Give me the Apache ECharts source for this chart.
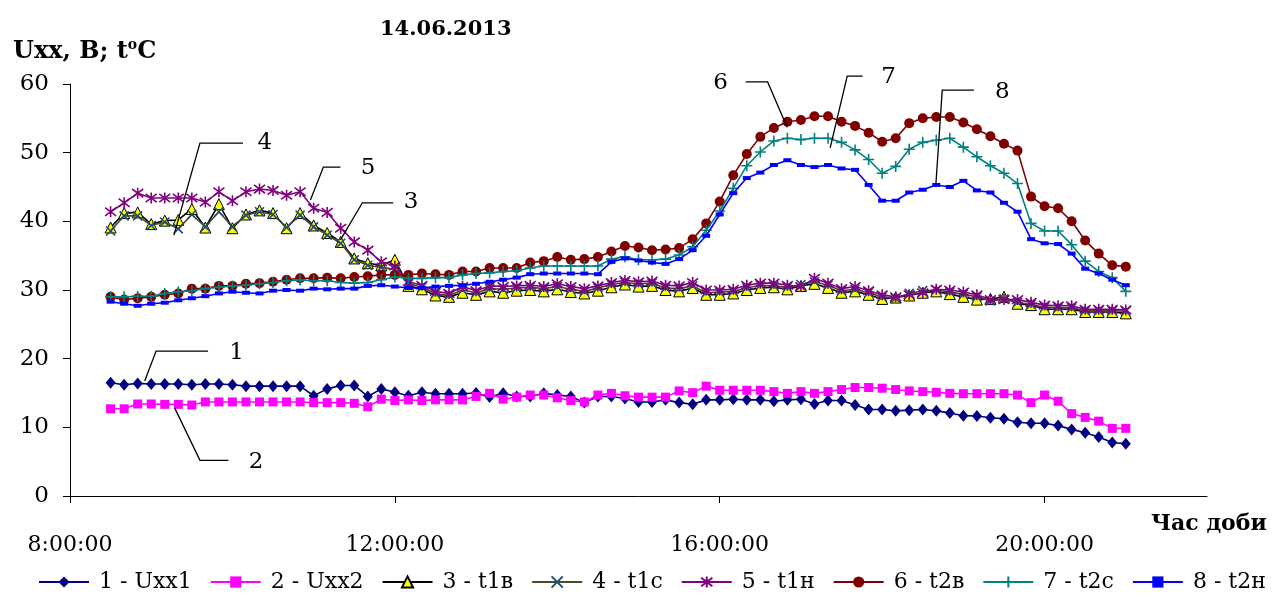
<!DOCTYPE html>
<html><head><meta charset="utf-8">
<script src="https://cdn.jsdelivr.net/npm/echarts@6/dist/echarts.min.js"></script>
<style>html,body{margin:0;padding:0;background:#fff}#c{width:1276px;height:606px}</style>
</head><body><div id="c"></div>
<script>
const times = ["8:30","8:40","8:50",
"9:00","9:10","9:20","9:30","9:40","9:50",
"10:00","10:10","10:20","10:30","10:40","10:50",
"11:00","11:10","11:20","11:30","11:40","11:50",
"12:00","12:10","12:20","12:30","12:40","12:50",
"13:00","13:10","13:20","13:30","13:40","13:50",
"14:00","14:10","14:20","14:30","14:40","14:50",
"15:00","15:10","15:20","15:30","15:40","15:50",
"16:00","16:10","16:20","16:30","16:40","16:50",
"17:00","17:10","17:20","17:30","17:40","17:50",
"18:00","18:10","18:20","18:30","18:40","18:50",
"19:00","19:10","19:20","19:30","19:40","19:50",
"20:00","20:10","20:20","20:30","20:40","20:50",
"21:00"];

const uxx1 = [16.5,16.2,16.4,16.3,16.3,16.3,16.2,16.3,16.3,16.2,16.0,16.0,16.0,16.0,16.0,
14.6,15.6,16.1,16.1,14.5,15.6,15.1,14.6,15.1,14.9,14.9,14.9,15.0,14.4,
14.95,14.5,14.5,14.95,14.7,14.5,13.6,14.5,14.5,14.2,13.7,13.7,14.0,13.6,13.35,14.0,14.0,14.1,14.0,
14.0,13.8,14.0,14.1,13.4,13.9,13.9,13.25,12.6,12.6,12.4,12.5,12.6,12.4,12.1,
11.7,11.65,11.4,11.25,10.75,10.6,10.6,10.25,9.7,9.2,8.6,7.8,7.6];

const uxx2 = [12.7,12.7,13.4,13.4,13.35,13.35,13.25,13.7,13.7,13.7,13.7,13.7,13.7,13.7,13.7,
13.6,13.6,13.6,13.5,13.0,14.1,13.9,14.0,13.9,14.0,14.0,14.0,14.5,14.95,
14.1,14.4,14.7,14.7,14.3,13.9,13.7,14.7,14.95,14.6,14.4,14.4,14.4,15.3,15.05,16.0,15.4,15.4,15.4,
15.4,15.2,14.95,15.2,14.95,15.2,15.5,15.8,15.8,15.7,15.5,15.3,15.2,15.1,14.95,
14.9,14.9,14.9,14.9,14.7,13.6,14.7,13.8,12.0,11.45,10.9,9.85,9.85];

const t1v = [39.1,41.2,41.3,39.6,40.1,40.2,41.8,39.1,42.5,39.0,41.0,41.6,41.2,39.0,41.2,39.4,38.3,37.0,34.6,33.9,33.6,34.4,
30.6,30.1,29.2,29.0,29.6,29.3,29.8,29.6,29.9,30.0,29.8,30.1,29.7,29.5,29.9,30.4,30.8,30.5,30.6,30.0,29.8,30.3,29.3,29.3,29.5,30.0,30.3,30.4,30.1,30.6,30.9,30.3,29.6,29.8,29.3,28.7,28.9,29.2,29.6,29.8,29.4,29.0,28.6,28.7,29.0,28.0,27.8,27.2,27.2,27.2,26.8,26.8,26.8,26.6];

const t1c = [38.6,40.8,40.8,39.4,39.9,38.9,41.0,39.2,41.4,39.2,40.9,41.4,41.0,39.1,40.9,39.2,38.0,36.8,34.4,33.6,33.3,33.0,
30.9,30.4,29.5,29.2,30.0,29.6,30.2,30.1,30.3,30.4,30.2,30.5,30.1,29.8,30.3,30.8,31.1,30.9,31.0,30.3,30.2,30.6,29.6,29.7,29.8,30.3,30.7,30.6,30.4,30.8,31.2,30.7,29.9,30.1,29.6,29.0,28.8,29.5,29.9,30.0,29.7,29.4,29.0,28.4,28.7,28.2,27.9,27.5,27.4,27.4,27.0,27.0,27.0,26.9];

const t1n = [41.4,42.7,44.1,43.4,43.4,43.4,43.4,42.8,44.3,43.0,44.3,44.7,44.5,43.8,44.3,41.9,41.3,39.0,37.0,35.8,34.1,33.5,
31.2,30.7,29.8,29.5,30.5,29.9,30.6,30.5,30.6,30.7,30.5,30.9,30.5,30.2,30.6,31.1,31.4,31.2,31.3,30.7,30.6,31.1,30.0,30.0,30.1,30.7,31.0,31.0,30.7,30.5,31.7,31.0,30.2,30.5,29.9,29.3,29.0,29.3,29.6,30.1,30.0,29.7,29.3,28.6,28.6,28.6,28.2,27.8,27.7,27.7,27.2,27.2,27.2,27.1];

const t2v = [29.0,28.6,28.8,29.0,29.3,29.5,30.2,30.2,30.6,30.6,30.9,31.0,31.2,31.5,31.7,31.7,31.8,31.7,31.9,32.0,
32.2,32.2,32.2,32.4,32.3,32.2,32.7,32.7,33.2,33.2,33.2,34.0,34.2,34.8,34.4,34.5,34.8,35.6,36.4,36.2,35.8,35.9,36.1,37.4,39.7,42.9,
46.7,49.8,52.3,53.6,54.5,54.75,55.3,55.3,54.5,53.9,52.9,51.6,52.1,54.3,55.0,55.2,55.2,54.4,53.4,52.4,51.3,50.3,
43.6,42.2,41.9,40.0,37.2,35.3,33.6,33.4];

const t2c = [29.0,29.0,29.1,29.1,29.5,29.75,29.9,30.2,30.4,30.6,30.7,30.9,31.1,31.35,31.45,31.35,31.35,31.1,31.0,31.1,
31.5,31.9,31.7,31.7,31.8,31.8,32.2,32.4,32.5,32.7,32.8,33.2,33.5,33.5,33.5,33.5,33.5,34.5,34.85,34.4,34.4,34.5,35.1,36.3,38.7,41.5,
44.8,48.1,50.1,51.7,52.1,51.9,52.1,52.1,51.5,50.4,49.0,47.0,48.0,50.5,51.5,51.8,52.1,50.8,49.4,48.1,47.0,45.5,
39.7,38.6,38.6,36.6,34.2,32.7,31.8,29.8];

const t2n = [28.3,28.0,27.7,28.0,28.15,28.5,28.8,29.1,29.5,29.75,29.6,29.5,29.9,30.0,29.9,30.2,30.1,30.2,30.2,30.6,
30.7,30.5,30.3,30.3,30.5,30.6,30.7,30.9,31.2,31.5,31.8,32.3,32.4,32.4,32.4,32.4,32.3,34.1,34.6,34.3,34.0,33.8,34.5,35.8,37.9,41.0,
44.1,46.3,47.1,48.2,48.9,48.2,47.9,48.2,47.7,47.5,45.3,43.0,43.0,44.2,44.6,45.3,45.0,45.9,44.5,44.2,42.7,41.4,
37.4,36.8,36.7,35.3,33.1,32.4,31.5,30.7];

const seriesNames = ["1 - Uxx1","2 - Uxx2","3 - t1в","4 - t1с","5 - t1н","6 - t2в","7 - t2с","8 - t2н"];
const xTickValues = [8,12,16,20];
const xTickLabels = ["8:00:00","12:00:00","16:00:00","20:00:00"];
const titleText = "14.06.2013";
const xTitle = "Час доби";

// callouts: leader lines in data coordinates [hours, value], label position and text
const callouts = [
  {label:"1", at:[10.05,20.8], pts:[[8.92,16.75],[9.06,21.1],[9.70,21.1]]},
  {label:"2", at:[10.29,4.9], pts:[[9.29,12.8],[9.60,5.2],[9.95,5.2]]},
  {label:"4", at:[10.40,51.4], pts:[[9.28,38.0],[9.60,51.4],[10.13,51.4]]},
  {label:"5", at:[11.67,47.8], pts:[[10.96,43.1],[11.12,47.9],[11.33,47.9]]},
  {label:"3", at:[12.20,42.8], pts:[[11.33,37.3],[11.60,42.7],[11.98,42.7]]},
  {label:"6", at:[16.01,60.1], pts:[[16.32,60.3],[16.59,60.3],[16.83,53.7]]},
  {label:"7", at:[18.08,61.0], pts:[[17.76,61.15],[17.57,61.15],[17.36,50.7]]},
  {label:"8", at:[19.48,58.8], pts:[[19.13,59.1],[18.74,59.1],[18.66,45.1]]}
];

const X = times.map(t => { const p = t.split(':').map(Number); return p[0] + p[1]/60; });
const pair = arr => arr.map((v,i) => [X[i], v]);

const FONT = "DejaVu Serif";
const chart = echarts.init(document.getElementById('c'), null, {renderer:'canvas'});

function line(name, data, lineColor, symbol, size, itemStyle, z) {
  return {
    name, type:'line', data: pair(data), symbol, symbolSize: size,
    showAllSymbol: true,
    lineStyle:{color: lineColor, width: 1.6},
    itemStyle, z: z, animation:false,
    emphasis:{disabled:true}
  };
}
const P_X = 'path://M0,0L10,10M10,0L0,10';
const P_AST = 'path://M5,0L5,10M0.6,1.2L9.4,8.8M9.4,1.2L0.6,8.8';
const P_PLUS = 'path://M5,0L5,10M0,5L10,5';

const option = {
  backgroundColor:'#fff',
  animation:false,
  title:[
    {text:titleText, left:375, top:14, textStyle:{fontFamily:FONT, fontWeight:'bold', fontSize:21, color:'#000'}},
    {text:'Uxx, B; t{sup|o}C', left:8, top:33, textStyle:{fontFamily:FONT, fontWeight:'bold', fontSize:24, color:'#000',
      rich:{sup:{fontFamily:FONT, fontWeight:'bold', fontSize:14, color:'#000', padding:[0,0,13,0]}}}},
    {text:xTitle, left:1146, top:508, textStyle:{fontFamily:FONT, fontWeight:'bold', fontSize:22, color:'#000'}}
  ],
  grid:{left:70, right:69, top:84, bottom:110},
  legend:{
    data: seriesNames, left:38, top:571, width:1238, padding:0, itemWidth:50, itemHeight:14, itemGap:18,
    textStyle:{fontFamily:FONT, fontSize:22, color:'#000', padding:[0,0,0,5]},
    selectedMode:false
  },
  xAxis:{
    type:'value', min:8, max:22,
    axisLine:{lineStyle:{color:'#000', width:1}},
    axisTick:{show:true, length:7, lineStyle:{color:'#000'}, customValues: xTickValues},
    axisLabel:{customValues: xTickValues, margin:38, fontFamily:FONT, fontSize:22, color:'#000',
      formatter: v => { const k = xTickValues.indexOf(v); return k >= 0 ? xTickLabels[k] : ''; }},
    splitLine:{show:false}
  },
  yAxis:{
    type:'value', min:0, max:60, interval:10,
    axisLine:{show:true, lineStyle:{color:'#000', width:1}},
    axisTick:{show:true, length:7, lineStyle:{color:'#000'}},
    axisLabel:{margin:21, fontFamily:FONT, fontSize:23, color:'#000'},
    splitLine:{show:false}
  },
  series:[
    line(seriesNames[0], uxx1, '#000080', 'diamond', [10,12], {color:'#000080'}, 2),
    line(seriesNames[1], uxx2, '#FF00FF', 'rect', 9, {color:'#FF00FF'}, 3),
    line(seriesNames[2], t1v, '#000000', 'triangle', 11, {color:'#FFFF00', borderColor:'#000', borderWidth:1}, 4),
    line(seriesNames[3], t1c, '#4A4A22', P_X, 9, {color:'rgba(0,0,0,0)', borderColor:'#1F4E79', borderWidth:1.6}, 5),
    line(seriesNames[4], t1n, '#800080', P_AST, 11, {color:'rgba(0,0,0,0)', borderColor:'#800080', borderWidth:1.6}, 6),
    line(seriesNames[5], t2v, '#800000', 'circle', 10, {color:'#800000'}, 7),
    line(seriesNames[6], t2c, '#008080', P_PLUS, 11, {color:'rgba(0,0,0,0)', borderColor:'#008080', borderWidth:1.6}, 8),
    line(seriesNames[7], t2n, '#0000FF', 'rect', [8,4], {color:'#0000FF'}, 9)
  ]
};
chart.setOption(option);

const graphics = [];
callouts.forEach(c => {
  const pts = c.pts.map(p => chart.convertToPixel({xAxisIndex:0, yAxisIndex:0}, p));
  graphics.push({type:'polyline', shape:{points:pts}, style:{stroke:'#000', lineWidth:1.3, fill:null}, z:20});
  const lp = chart.convertToPixel({xAxisIndex:0, yAxisIndex:0}, c.at);
  graphics.push({type:'text', x:lp[0], y:lp[1], style:{text:c.label, fontFamily:FONT, fontSize:23, fill:'#000', align:'center', verticalAlign:'middle'}, z:20});
});
chart.setOption({graphic: graphics});
</script>
</body></html>
